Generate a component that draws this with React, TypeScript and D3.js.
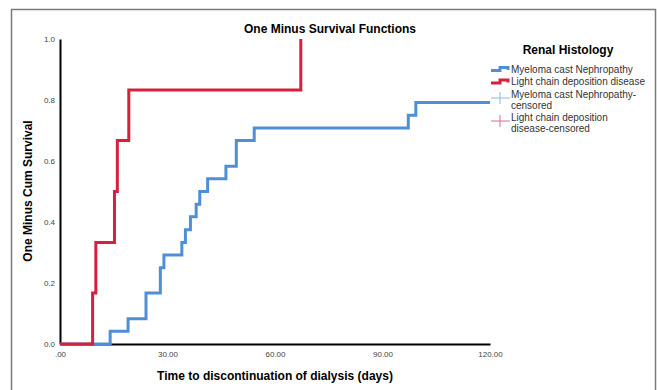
import React, { useRef, useEffect } from 'react';
import * as d3 from 'd3';

// Kaplan-Meier steps (one minus cum survival)
const myelomaDays = [0, 14, 19, 24, 28, 29, 34, 35, 36.4, 38, 39, 41.2, 46.3, 49.2, 54.2, 97.2, 99.3, 120];
const myelomaValues = [0, 0.042, 0.083, 0.167, 0.25, 0.292, 0.333, 0.375, 0.417, 0.458, 0.5, 0.542, 0.583, 0.667, 0.708, 0.75, 0.792, 0.792];

const lightChainDays = [0, 9.1, 10, 15.2, 16, 19.2, 67.2];
const lightChainValues = [0, 0.167, 0.333, 0.5, 0.667, 0.833, 1.0];

const xTicks = [0, 30, 60, 90, 120];
const yTicks = [0, 0.2, 0.4, 0.6, 0.8, 1.0];

const legendLabels = [
  ['Myeloma cast Nephropathy'],
  ['Light chain deposition disease'],
  ['Myeloma cast Nephropathy-', 'censored'],
  ['Light chain deposition', 'disease-censored'],
];

const BLUE = '#4f8fd8';
const RED = '#d6203c';

function App() {
  const svgRef = useRef();

  useEffect(() => {
    const svg = d3.select(svgRef.current);
    svg.selectAll('*').remove();

    const width = 657;
    const height = 390;
    const margin = { top: 39, left: 60 };
    const innerWidth = 430;
    const innerHeight = 305;
    const font = "'Liberation Sans', Arial, sans-serif";

    // outer frame
    svg.append('rect')
      .attr('x', 11.5).attr('y', 9.5)
      .attr('width', 644).attr('height', height + 20)
      .attr('fill', 'none')
      .attr('stroke', '#7a7a7a')
      .attr('stroke-width', 1.5);

    svg.append('text')
      .attr('x', 330).attr('y', 33)
      .attr('text-anchor', 'middle')
      .style('font', `bold 12px ${font}`)
      .text('One Minus Survival Functions');

    const xScale = d3.scaleLinear().domain([0, 120]).range([0, innerWidth]);
    const yScale = d3.scaleLinear().domain([0, 1]).range([innerHeight, 0]);

    const g = svg.append('g')
      .attr('transform', `translate(${margin.left},${margin.top})`);

    const yAxis = d3.axisLeft(yScale)
      .tickValues(yTicks)
      .tickSize(0)
      .tickPadding(5)
      .tickFormat(d3.format('.1f'));

    const yAxisG = g.append('g').call(yAxis);
    yAxisG.select('.domain').attr('stroke', '#000').attr('stroke-width', 2);
    yAxisG.selectAll('text').style('font', `8px ${font}`).attr('fill', '#444');

    const xAxis = d3.axisBottom(xScale)
      .tickValues(xTicks)
      .tickSize(0)
      .tickPadding(7)
      .tickFormat(d => d === 0 ? '.00' : d3.format('.2f')(d));

    const xAxisG = g.append('g')
      .attr('transform', `translate(0,${innerHeight})`)
      .call(xAxis);
    xAxisG.select('.domain').attr('stroke', '#000').attr('stroke-width', 2);
    xAxisG.selectAll('text').style('font', `8px ${font}`).attr('fill', '#444');

    const line = d3.line()
      .x(d => xScale(d[0]))
      .y(d => yScale(d[1]))
      .curve(d3.curveStepAfter);

    const blueData = myelomaDays.map((d, i) => [d, myelomaValues[i]]);
    const redData = lightChainDays.map((d, i) => [d, lightChainValues[i]]);

    g.append('path')
      .datum(blueData)
      .attr('d', line)
      .attr('fill', 'none')
      .attr('stroke', BLUE)
      .attr('stroke-width', 3);

    g.append('path')
      .datum(redData)
      .attr('d', line)
      .attr('fill', 'none')
      .attr('stroke', RED)
      .attr('stroke-width', 3);

    // axis titles
    svg.append('text')
      .attr('x', 275).attr('y', 380)
      .attr('text-anchor', 'middle')
      .style('font', `bold 12px ${font}`)
      .text('Time to discontinuation of dialysis (days)');

    svg.append('text')
      .attr('transform', 'translate(32,191) rotate(-90)')
      .attr('text-anchor', 'middle')
      .style('font', `bold 12px ${font}`)
      .text('One Minus Cum Survival');

    // legend
    const legend = svg.append('g');
    legend.append('text')
      .attr('x', 568).attr('y', 54)
      .attr('text-anchor', 'middle')
      .style('font', `bold 12px ${font}`)
      .text('Renal Histology');

    const rowY = [69, 81.5, 94, 117];
    const stepIcon = (y, color) => {
      legend.append('path')
        .attr('d', `M491,${y + 1.5} H500 V${y - 1.5} H508 V${y + 1}`)
        .attr('fill', 'none')
        .attr('stroke', color)
        .attr('stroke-width', 3);
    };
    const censorIcon = (y, color) => {
      legend.append('line')
        .attr('x1', 491).attr('x2', 510).attr('y1', y).attr('y2', y)
        .attr('stroke', color).attr('stroke-width', 1);
      legend.append('line')
        .attr('x1', 500).attr('x2', 500).attr('y1', y - 6).attr('y2', y + 6)
        .attr('stroke', color).attr('stroke-width', 1);
    };
    stepIcon(rowY[0], BLUE);
    stepIcon(rowY[1], RED);
    censorIcon(rowY[2] + 4, '#8db6e6');
    censorIcon(rowY[3] + 4, '#d9708a');

    legendLabels.forEach((lines, i) => {
      lines.forEach((t, j) => {
        legend.append('text')
          .attr('x', 511)
          .attr('y', rowY[i] + 3.5 + j * 11)
          .style('font', `10px ${font}`)
          .attr('fill', '#333')
          .text(t);
      });
    });
  }, []);

  return (
    <svg
      ref={svgRef}
      width={657}
      height={390}
      style={{ position: 'absolute', left: 0, top: 0, background: '#fff' }}
    />
  );
}

export default App;
